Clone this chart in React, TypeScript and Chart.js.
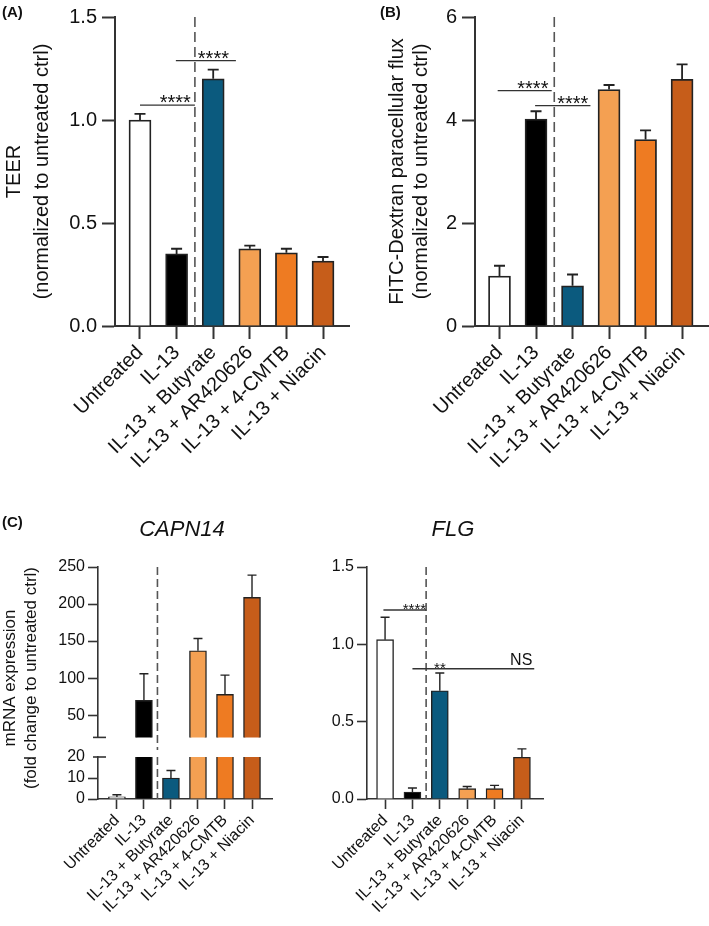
import React, { useEffect, useRef } from "react";
import { Chart, registerables } from "chart.js";

Chart.register(...registerables);

// ---------------- data ----------------
const categories = [
  "Untreated",
  "IL-13",
  "IL-13 + Butyrate",
  "IL-13 + AR420626",
  "IL-13 + 4-CMTB",
  "IL-13 + Niacin",
];
const barColors = ["#ffffff", "#000000", "#0b5a7e", "#f4a052", "#ee7b22", "#c65d1a"];

const teerMean = [1.0, 0.35, 1.2, 0.375, 0.355, 0.315];
const teerSem = [0.03, 0.025, 0.045, 0.015, 0.02, 0.02];
const teerTicks = [0, 0.5, 1.0, 1.5];

const fitcMean = [0.97, 4.02, 0.78, 4.59, 3.62, 4.79];
const fitcSem = [0.2, 0.15, 0.22, 0.09, 0.18, 0.29];
const fitcTicks = [0, 2, 4, 6];

const capnMean = [1, 70, 10, 137, 78, 209];
const capnSem = [1, 36, 3.6, 16.5, 26, 30];
const capnUpperTicks = [50, 100, 150, 200, 250];
const capnLowerTicks = [0, 10, 20];

const flgMean = [1.03, 0.045, 0.7, 0.067, 0.067, 0.27];
const flgSem = [0.145, 0.026, 0.115, 0.014, 0.021, 0.054];
const flgTicks = [0, 0.5, 1.0, 1.5];

// ---------------- styles ----------------
const FONT = "Arial, 'Liberation Sans', Helvetica, sans-serif";
const AXIS = "#333333";
const INK = "#111111";
const EDGE = "#222222";
const DASH = "#555555";

interface Bracket { x1: number; x2: number; y: number }
interface Note { x: number; y: number; text: string; align: CanvasTextAlign; dy: number; size: number }
interface FreeText {
  text: string; x: number; y: number; size: number;
  weight?: string; style?: string; rotate?: boolean; align?: CanvasTextAlign;
}
interface Overlay {
  errW: number; cap: number; clip: boolean;
  dashAt?: number; dash: number[]; dashExtend?: number;
  brackets: Bracket[]; bracketW: number; notes: Note[];
  breakMark?: "top" | "bottom";
  texts: FreeText[];
}
interface PanelSpec {
  left: number; top: number; w: number; h: number;
  pad: { top: number; right: number; bottom: number; left: number };
  yWidth: number; xHeight: number; showX: boolean;
  xMin: number; xMax: number;
  yMin: number; yMax: number; yTicks: number[]; yFmt: (v: number) => string;
  mean: number[]; sem: number[];
  barWidth: number; edge: number; axisW: number; tickLen: number;
  yFont: number; xFont: number; yPad: number; clipBars: boolean;
  hideTickAt?: number;
  yTitle?: { lines: string[]; size: number; lineHeight: number; padTop: number };
  overlay: Overlay;
}

function overlayPlugin(p: PanelSpec) {
  const o = p.overlay;
  return {
    id: "overlay",
    afterDraw(chart: any) {
      const ctx: CanvasRenderingContext2D = chart.ctx;
      const xs = chart.scales.x;
      const ys = chart.scales.y;
      const a = chart.chartArea;

      // error bars (one-sided, upward)
      ctx.save();
      if (o.clip) {
        ctx.beginPath();
        ctx.rect(a.left - 30, a.top, a.right - a.left + 60, a.bottom - a.top);
        ctx.clip();
      }
      ctx.strokeStyle = EDGE;
      ctx.lineWidth = o.errW;
      p.mean.forEach((m, i) => {
        const x = xs.getPixelForValue(i);
        const y0 = ys.getPixelForValue(m);
        const y1 = ys.getPixelForValue(m + p.sem[i]);
        ctx.beginPath();
        ctx.moveTo(x, y0);
        ctx.lineTo(x, y1);
        ctx.moveTo(x - o.cap, y1);
        ctx.lineTo(x + o.cap, y1);
        ctx.stroke();
      });
      ctx.restore();

      // dashed separator
      if (o.dashAt !== undefined) {
        const x = xs.getPixelForValue(o.dashAt);
        ctx.save();
        ctx.strokeStyle = DASH;
        ctx.lineWidth = 1.6;
        ctx.setLineDash(o.dash);
        ctx.beginPath();
        ctx.moveTo(x, a.top);
        ctx.lineTo(x, a.bottom + (o.dashExtend || 0));
        ctx.stroke();
        ctx.restore();
      }

      // significance brackets
      ctx.save();
      ctx.strokeStyle = AXIS;
      ctx.lineWidth = o.bracketW;
      o.brackets.forEach((b) => {
        const y = ys.getPixelForValue(b.y);
        ctx.beginPath();
        ctx.moveTo(xs.getPixelForValue(b.x1), y);
        ctx.lineTo(xs.getPixelForValue(b.x2), y);
        ctx.stroke();
      });
      ctx.fillStyle = INK;
      ctx.textBaseline = "alphabetic";
      o.notes.forEach((n) => {
        ctx.font = `${n.size}px ${FONT}`;
        ctx.textAlign = n.align;
        ctx.fillText(n.text, xs.getPixelForValue(n.x), ys.getPixelForValue(n.y) + n.dy);
      });
      ctx.restore();

      // axis break marks
      if (o.breakMark) {
        const y = o.breakMark === "top" ? a.top : a.bottom;
        ctx.save();
        ctx.strokeStyle = AXIS;
        ctx.lineWidth = p.axisW;
        ctx.beginPath();
        ctx.moveTo(a.left - 5, y);
        ctx.lineTo(a.left + 8, y);
        ctx.stroke();
        ctx.restore();
      }

      // free texts
      o.texts.forEach((t) => {
        ctx.save();
        ctx.fillStyle = INK;
        ctx.font = `${t.style || "normal"} ${t.weight || "normal"} ${t.size}px ${FONT}`;
        ctx.textAlign = t.align || "center";
        ctx.textBaseline = "middle";
        ctx.translate(t.x, t.y);
        if (t.rotate) ctx.rotate(-Math.PI / 2);
        ctx.fillText(t.text, 0, 0);
        ctx.restore();
      });
    },
  };
}

function buildConfig(p: PanelSpec): any {
  const data = p.mean.map((v, i) => ({ x: i, y: v }));
  const tickColor =
    p.hideTickAt !== undefined
      ? (c: any) => (c.tick && c.tick.value === p.hideTickAt ? "rgba(0,0,0,0)" : AXIS)
      : AXIS;
  return {
    type: "bar",
    data: {
      datasets: [
        {
          data,
          backgroundColor: barColors,
          borderColor: EDGE,
          borderWidth: p.edge,
          barThickness: p.barWidth,
          ...(p.clipBars ? { clip: 0 } : {}),
        },
      ],
    },
    options: {
      animation: false,
      responsive: false,
      events: [],
      layout: { padding: p.pad },
      plugins: { legend: { display: false }, tooltip: { enabled: false }, title: { display: false } },
      scales: {
        x: {
          type: "linear",
          display: p.showX,
          min: p.xMin,
          max: p.xMax,
          offset: false,
          afterBuildTicks: (s: any) => {
            s.ticks = categories.map((_, i) => ({ value: i }));
          },
          afterFit: (s: any) => {
            s.height = p.xHeight;
          },
          grid: {
            display: true,
            offset: false,
            drawOnChartArea: false,
            drawTicks: true,
            tickLength: p.tickLen,
            tickWidth: p.axisW,
            tickColor: AXIS,
          },
          border: { display: true, color: AXIS, width: p.axisW },
          ticks: {
            autoSkip: false,
            minRotation: 45,
            maxRotation: 45,
            padding: 2,
            color: INK,
            font: { family: FONT, size: p.xFont },
            callback: (v: any) => categories[Math.round(Number(v))] ?? "",
          },
        },
        y: {
          type: "linear",
          min: p.yMin,
          max: p.yMax,
          afterBuildTicks: (s: any) => {
            s.ticks = p.yTicks.map((v) => ({ value: v }));
          },
          afterFit: (s: any) => {
            s.width = p.yWidth;
          },
          grid: {
            display: true,
            drawOnChartArea: false,
            drawTicks: true,
            tickLength: p.tickLen,
            tickWidth: p.axisW,
            tickColor,
          },
          border: { display: true, color: AXIS, width: p.axisW },
          ticks: {
            autoSkip: false,
            padding: p.yPad,
            color: INK,
            font: { family: FONT, size: p.yFont },
            callback: (v: any) => p.yFmt(Number(v)),
          },
          title: p.yTitle
            ? {
                display: true,
                text: p.yTitle.lines,
                color: INK,
                font: { family: FONT, size: p.yTitle.size, lineHeight: p.yTitle.lineHeight },
                padding: { top: p.yTitle.padTop, bottom: 0 },
              }
            : { display: false },
        },
      },
    },
    plugins: [overlayPlugin(p)],
  };
}

// ---------------- panels ----------------
const specA: PanelSpec = {
  left: 0, top: 0, w: 352, h: 480,
  pad: { top: 14, right: 3, bottom: 0, left: 0 },
  yWidth: 115, xHeight: 154, showX: true,
  xMin: -0.683, xMax: 5.71,
  yMin: 0, yMax: 1.5, yTicks: teerTicks, yFmt: (v) => v.toFixed(1),
  mean: teerMean, sem: teerSem,
  barWidth: 22, edge: 1.8, axisW: 2, tickLen: 13, yFont: 20, xFont: 20, yPad: 5, clipBars: false,
  yTitle: { lines: ["TEER", "(normalized to untreated ctrl)"], size: 20, lineHeight: 1.4, padTop: 0 },
  overlay: {
    errW: 1.8, cap: 5.5, clip: false,
    dashAt: 1.5, dash: [10, 5],
    bracketW: 1.4,
    brackets: [
      { x1: 0, x2: 1.5, y: 1.072 },
      { x1: 0.98, x2: 2.62, y: 1.288 },
    ],
    notes: [
      { x: 1.39, y: 1.072, text: "****", align: "right", dy: 4, size: 20 },
      { x: 1.58, y: 1.288, text: "****", align: "left", dy: 4, size: 20 },
    ],
    texts: [{ text: "(A)", x: 2, y: 13, size: 15, weight: "bold", align: "left" }],
  },
};

const specB: PanelSpec = {
  left: 354, top: 0, w: 355, h: 480,
  pad: { top: 14, right: 1, bottom: 0, left: 0 },
  yWidth: 121, xHeight: 154, showX: true,
  xMin: -0.671, xMax: 5.71,
  yMin: 0, yMax: 6, yTicks: fitcTicks, yFmt: (v) => String(v),
  mean: fitcMean, sem: fitcSem,
  barWidth: 22, edge: 1.8, axisW: 2, tickLen: 13, yFont: 20, xFont: 20, yPad: 5, clipBars: false,
  yTitle: {
    lines: ["FITC-Dextran paracellular flux", "(normalized to untreated ctrl)"],
    size: 20, lineHeight: 1.2, padTop: 31,
  },
  overlay: {
    errW: 1.8, cap: 5.5, clip: false,
    dashAt: 1.5, dash: [10, 5],
    bracketW: 1.4,
    brackets: [
      { x1: -0.05, x2: 1.43, y: 4.57 },
      { x1: 0.975, x2: 2.49, y: 4.28 },
    ],
    notes: [
      { x: 1.34, y: 4.57, text: "****", align: "right", dy: 4, size: 20 },
      { x: 1.58, y: 4.28, text: "****", align: "left", dy: 4, size: 20 },
    ],
    texts: [{ text: "(B)", x: 26, y: 13, size: 15, weight: "bold", align: "left" }],
  },
};

const specCapnUpper: PanelSpec = {
  left: 0, top: 480, w: 290, h: 270,
  pad: { top: 87, right: 18, bottom: 11, left: 0 },
  yWidth: 98, xHeight: 0, showX: false,
  xMin: -0.7, xMax: 5.74,
  yMin: 20, yMax: 250, yTicks: capnUpperTicks, yFmt: (v) => String(v),
  mean: capnMean, sem: capnSem,
  barWidth: 17, edge: 1.4, axisW: 1.6, tickLen: 10, yFont: 16, xFont: 16, yPad: 3, clipBars: true,
  overlay: {
    errW: 1.4, cap: 4.5, clip: true,
    dashAt: 1.5, dash: [8, 4], dashExtend: 18,
    bracketW: 1.2, brackets: [], notes: [],
    breakMark: "bottom",
    texts: [{ text: "CAPN14", x: 182, y: 50, size: 22, style: "italic" }],
  },
};

const specCapnLower: PanelSpec = {
  left: 0, top: 480, w: 290, h: 446,
  pad: { top: 277, right: 18, bottom: 0, left: 0 },
  yWidth: 98, xHeight: 127, showX: true,
  xMin: -0.7, xMax: 5.74,
  yMin: 0, yMax: 20, yTicks: capnLowerTicks, yFmt: (v) => String(v),
  mean: capnMean, sem: capnSem,
  barWidth: 17, edge: 1.4, axisW: 1.6, tickLen: 10, yFont: 16, xFont: 16, yPad: 3, clipBars: true,
  hideTickAt: 20,
  overlay: {
    errW: 1.4, cap: 4.5, clip: true,
    dashAt: 1.5, dash: [8, 4],
    bracketW: 1.2, brackets: [], notes: [],
    breakMark: "top",
    texts: [
      { text: "(C)", x: 2, y: 43, size: 15, weight: "bold", align: "left" },
      { text: "mRNA expression", x: 10, y: 198, size: 17, rotate: true },
      { text: "(fold change to untreated ctrl)", x: 31, y: 198, size: 17, rotate: true },
    ],
  },
};

const specFlg: PanelSpec = {
  left: 290, top: 480, w: 290, h: 446,
  pad: { top: 87, right: 37, bottom: 0, left: 0 },
  yWidth: 77, xHeight: 127, showX: true,
  xMin: -0.66, xMax: 5.77,
  yMin: 0, yMax: 1.5, yTicks: flgTicks, yFmt: (v) => v.toFixed(1),
  mean: flgMean, sem: flgSem,
  barWidth: 17, edge: 1.4, axisW: 1.6, tickLen: 10, yFont: 16, xFont: 16, yPad: 3, clipBars: false,
  overlay: {
    errW: 1.4, cap: 4.5, clip: false,
    dashAt: 1.5, dash: [8, 4],
    bracketW: 1.3,
    brackets: [
      { x1: -0.06, x2: 1.5, y: 1.222 },
      { x1: 1.0, x2: 5.45, y: 0.842 },
    ],
    notes: [
      { x: 1.5, y: 1.222, text: "****", align: "right", dy: 4, size: 15 },
      { x: 1.79, y: 0.842, text: "**", align: "left", dy: 4, size: 15 },
      { x: 5.38, y: 0.842, text: "NS", align: "right", dy: -4, size: 16 },
    ],
    texts: [{ text: "FLG", x: 163, y: 50, size: 22, style: "italic" }],
  },
};

function Panel({ spec }: { spec: PanelSpec }) {
  const ref = useRef<HTMLCanvasElement>(null);
  useEffect(() => {
    if (!ref.current) return;
    const chart = new Chart(ref.current, buildConfig(spec));
    return () => chart.destroy();
  }, [spec]);
  return (
    <canvas
      ref={ref}
      width={spec.w}
      height={spec.h}
      style={{ position: "absolute", left: spec.left, top: spec.top, width: spec.w, height: spec.h }}
    />
  );
}

export default function App() {
  return (
    <div
      style={{
        position: "absolute",
        left: 0,
        top: 0,
        width: 709,
        height: 926,
        background: "#ffffff",
        overflow: "hidden",
      }}
    >
      <Panel spec={specA} />
      <Panel spec={specB} />
      <Panel spec={specCapnUpper} />
      <Panel spec={specCapnLower} />
      <Panel spec={specFlg} />
    </div>
  );
}
